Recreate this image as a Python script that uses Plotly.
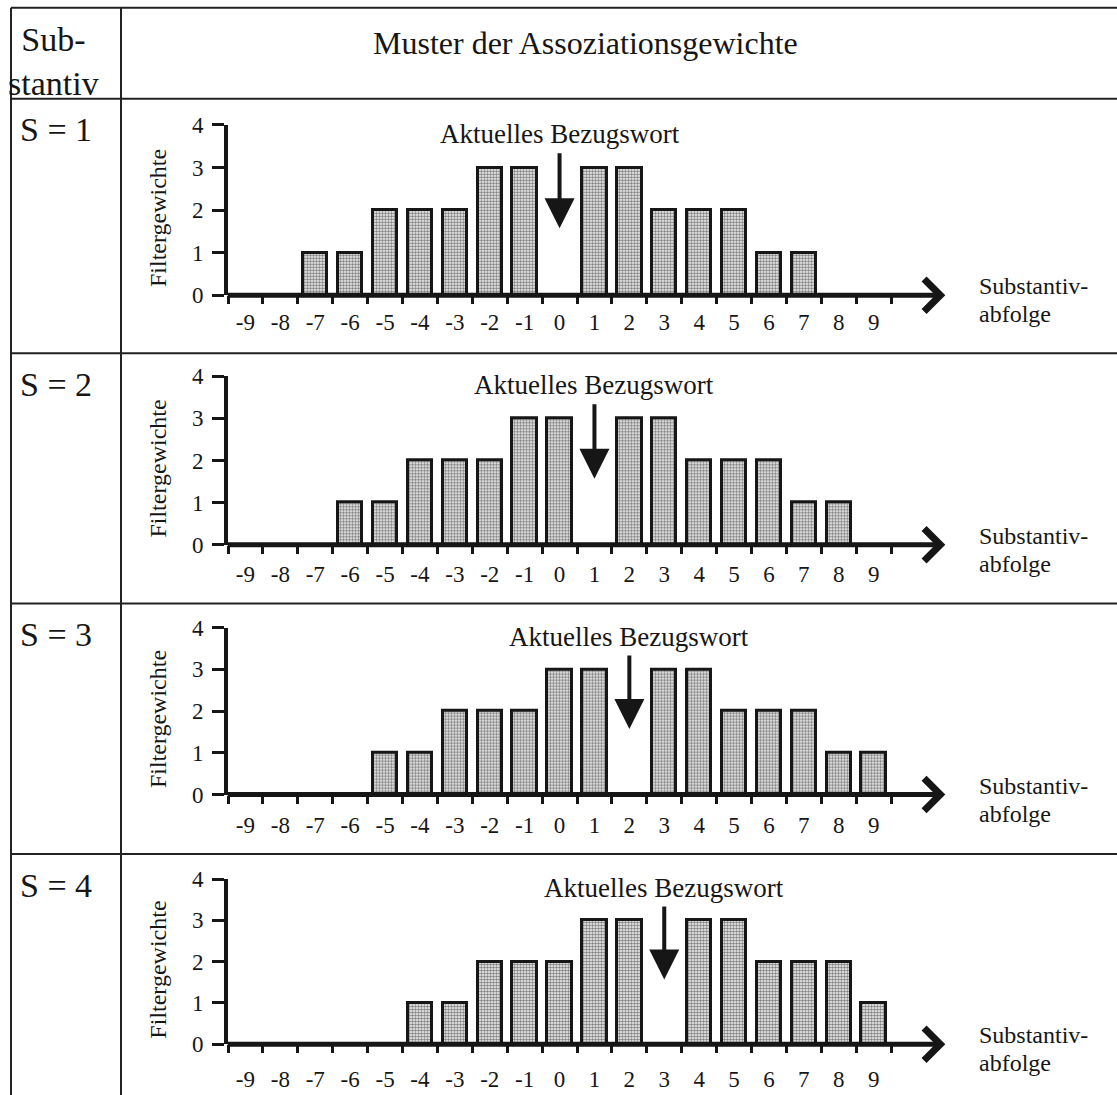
import plotly.graph_objects as go

# ---------------- data ----------------
categories = list(range(-9, 10))
tick_labels = [str(c) for c in categories]
weights_s1 = [0, 0, 1, 1, 2, 2, 2, 3, 3, 0, 3, 3, 2, 2, 2, 1, 1, 0, 0]
weights_s2 = [0, 0, 0, 1, 1, 2, 2, 2, 3, 3, 0, 3, 3, 2, 2, 2, 1, 1, 0]
weights_s3 = [0, 0, 0, 0, 1, 1, 2, 2, 2, 3, 3, 0, 3, 3, 2, 2, 2, 1, 1]
weights_s4 = [0, 0, 0, 0, 0, 1, 1, 2, 2, 2, 3, 3, 0, 3, 3, 2, 2, 2, 1]
reference_positions = [0, 1, 2, 3]
row_labels = ["S = 1", "S = 2", "S = 3", "S = 4"]
y_ticks = [0, 1, 2, 3, 4]
header_left = "Sub-<br>stantiv"
header_right = "Muster der Assoziationsgewichte"
arrow_label = "Aktuelles Bezugswort"
y_title = "Filtergewichte"
x_title_1 = "Substantiv-"
x_title_2 = "abfolge"
all_weights = [weights_s1, weights_s2, weights_s3, weights_s4]

# ---------------- layout helpers ----------------
W, H = 1117, 1112          # page size of the figure
VIEW_OFF, VIEW_SCALE = 12.3, 0.976   # vertical mapping page -> photographed picture
FONT = "Liberation Serif, Times New Roman, serif"
INK = "#161616"


def px(x):
    return x / W


def py(y):
    # y: target pixel row in the final picture
    page_y = (y - VIEW_OFF) / VIEW_SCALE
    return 1 - page_y / H


boundaries = [c - 0.5 for c in categories] + [categories[-1] + 0.5]
x_left_px, x_right_px = 228, 946
unit_px = 34.9
x_max = -9.5 + (x_right_px - x_left_px) / unit_px

row_tops = [99, 353, 603, 853]
label_gaps = [28, 30, 31, 36]

fig = go.Figure()
annotations = []
shapes = []
layout_axes = {}

for i, w in enumerate(all_weights):
    n = "" if i == 0 else str(i + 1)
    xa, ya = "x" + n, "y" + n
    zero_y = 295 + 249.3 * i
    top_y = 125 + 251 * i
    shown = [v if v > 0 else None for v in w]

    fig.add_trace(go.Bar(
        x=categories, y=shown, width=0.7, xaxis=xa, yaxis=ya, showlegend=False,
        marker=dict(color="#ffffff", line=dict(color=INK, width=3),
                    pattern=dict(shape=".", fgcolor="#000000", bgcolor="#ffffff",
                                 size=3, solidity=0.6)),
        hoverinfo="skip",
    ))

    layout_axes["xaxis" + n] = dict(
        domain=[px(x_left_px), px(x_right_px)], range=[-9.5, x_max], anchor=ya,
        showline=False, showgrid=False, zeroline=False,
        tickmode="array", tickvals=categories, ticktext=tick_labels, ticks="",
        ticklabelstandoff=label_gaps[i] - 17,
        tickfont=dict(family=FONT, size=23, color=INK),
        minor=dict(tickmode="array", tickvals=boundaries, ticks="outside",
                   ticklen=8, tickwidth=3, tickcolor=INK, showgrid=False),
        fixedrange=True,
    )
    layout_axes["yaxis" + n] = dict(
        domain=[py(zero_y), py(top_y)], range=[0, 4], anchor=xa,
        showline=True, linewidth=4, linecolor=INK, showgrid=False, zeroline=False,
        tickmode="array", tickvals=y_ticks, ticks="outside", ticklen=12,
        tickwidth=3, tickcolor=INK, ticklabelstandoff=4,
        tickfont=dict(family=FONT, size=23, color=INK),
        fixedrange=True,
    )

    ref = reference_positions[i]
    annotations.append(dict(
        x=ref, y=1.57, xref=xa, yref=ya, ax=ref, ay=3.37, axref=xa, ayref=ya,
        text="", showarrow=True, arrowhead=2, arrowsize=1.5, arrowwidth=4,
        arrowcolor=INK,
    ))
    annotations.append(dict(
        x=ref, xref=xa, y=py(top_y + 9), yref="paper", text=arrow_label,
        showarrow=False, font=dict(family=FONT, size=27, color=INK),
        xanchor="center", yanchor="middle",
    ))
    # x axis line with arrow head
    annotations.append(dict(
        x=x_max - 0.02, y=0, xref=xa, yref=ya, ax=-9.55, ay=0, axref=xa, ayref=ya,
        text="", showarrow=True, arrowhead=4, arrowsize=1.25, arrowwidth=5,
        arrowcolor=INK,
    ))
    annotations.append(dict(
        x=px(977), y=py(zero_y - 9), xref="paper", yref="paper", text=x_title_1,
        showarrow=False, font=dict(family=FONT, size=24, color=INK),
        xanchor="left", yanchor="middle",
    ))
    annotations.append(dict(
        x=px(977), y=py(zero_y + 19), xref="paper", yref="paper", text=x_title_2,
        showarrow=False, font=dict(family=FONT, size=24, color=INK),
        xanchor="left", yanchor="middle",
    ))
    annotations.append(dict(
        x=px(158), y=py((zero_y + top_y) / 2 + 8), xref="paper", yref="paper",
        text=y_title, textangle=-90, showarrow=False,
        font=dict(family=FONT, size=24, color=INK),
        xanchor="center", yanchor="middle",
    ))
    annotations.append(dict(
        x=px(56), y=py(row_tops[i] + 31), xref="paper", yref="paper",
        text=row_labels[i], showarrow=False,
        font=dict(family=FONT, size=34, color=INK),
        xanchor="center", yanchor="middle",
    ))

annotations.append(dict(
    x=px(53), y=py(62), xref="paper", yref="paper", text=header_left,
    showarrow=False, font=dict(family=FONT, size=34, color=INK),
    xanchor="center", yanchor="middle",
))
annotations.append(dict(
    x=px(585), y=py(43), xref="paper", yref="paper", text=header_right,
    showarrow=False, font=dict(family=FONT, size=32, color=INK),
    xanchor="center", yanchor="middle",
))

line_style = dict(color="#222222", width=2)
for yy in [8] + row_tops:
    shapes.append(dict(type="line", xref="paper", yref="paper",
                       x0=px(11), x1=1, y0=py(yy), y1=py(yy), line=line_style))
for xx in [11, 121]:
    shapes.append(dict(type="line", xref="paper", yref="paper",
                       x0=px(xx), x1=px(xx), y0=py(8), y1=0, line=line_style))

fig.update_layout(
    width=W, height=H, autosize=False,
    margin=dict(l=0, r=0, t=0, b=0, pad=0),
    paper_bgcolor="white", plot_bgcolor="white",
    annotations=annotations, shapes=shapes, showlegend=False,
    bargap=0, **layout_axes,
)

fig.write_html("out.html", config={"displayModeBar": False},
               post_script="document.body.style.margin='0';document.body.style.overflow='hidden';")
